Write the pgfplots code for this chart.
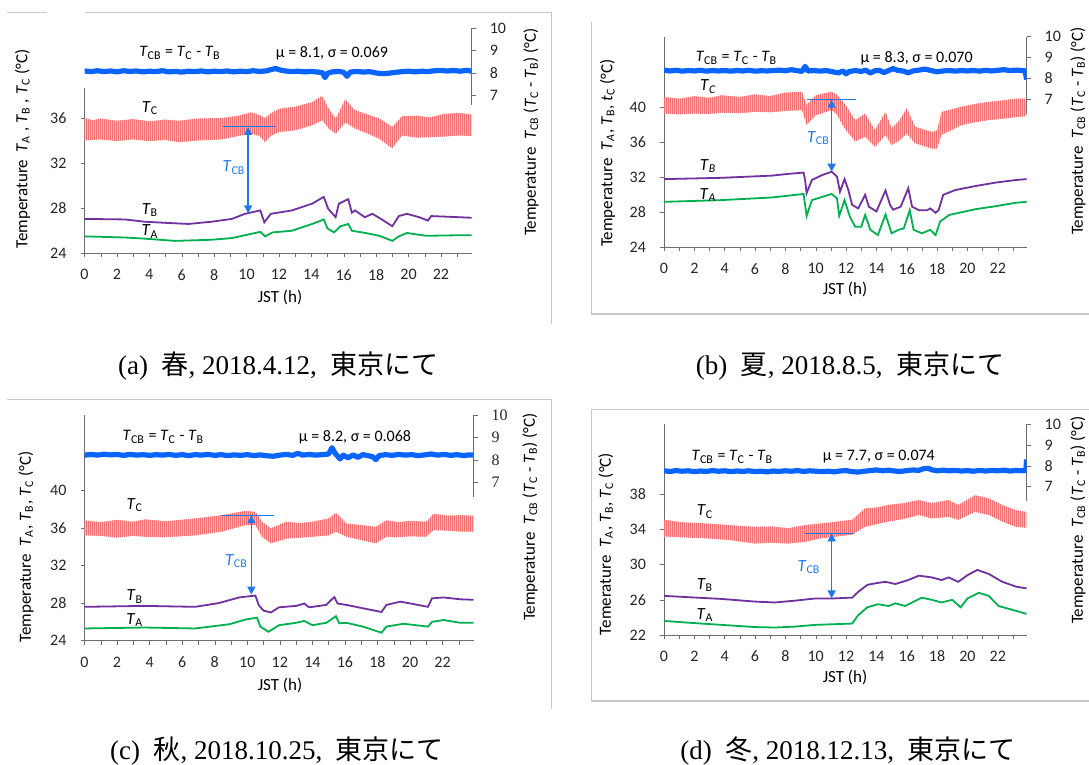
\documentclass[border=0pt]{standalone}
\usepackage{fontspec}
\setmainfont{Carlito}
\newfontfamily\capfont{Liberation Serif}
\newfontfamily\jp{Noto Sans CJK JP}
\usepackage{pgfplots}
\pgfplotsset{compat=1.18}
\usetikzlibrary{patterns.meta,arrows.meta}

\definecolor{cpink}{RGB}{249,186,186}
\definecolor{cpinkd}{RGB}{238,112,112}
\definecolor{cblue}{RGB}{10,100,255}
\definecolor{carrow}{RGB}{30,120,240}
\definecolor{cpurp}{RGB}{112,48,160}
\definecolor{cgreen}{RGB}{0,176,80}
\definecolor{caxis}{RGB}{110,110,110}
\definecolor{cframe}{RGB}{200,200,200}

\newcommand\T[1]{\textit{T}\textsubscript{#1}}
\newcommand\Ti[1]{\textit{T}\textsubscript{\textit{#1}}}
\newcommand\lab{\fontsize{8.5}{10}\selectfont}
\newcommand\tk{\fontsize{8}{9.6}\selectfont}

\tikzset{
  arr/.style={carrow, line width=0.8pt, {Triangle[length=4pt,width=4pt]}-{Triangle[length=4pt,width=4pt]}},
  hl/.style={carrow, line width=0.5pt},
}
\pgfplotsset{
  mainax/.style={scale only axis, anchor=south west,
    axis x line*=bottom, axis y line*=left, axis line style={caxis,-},
    xmin=0, xmax=23.9, xtick={0,2,...,22}, minor xtick={1,3,...,23},
    tick align=outside, major tick length=2pt, minor tick length=2pt,
    tick style={caxis}, tick label style={font=\tk, text=black!85},
    /pgf/number format/assume math mode=true,
    xticklabel style={yshift=-2.5pt}, yticklabel style={xshift=-3.5pt}},
  rightax/.style={scale only axis, anchor=south west,
    axis x line*=bottom, x axis line style={draw=none}, xtick=\empty,
    axis y line*=right, axis line style={caxis,-},
    xmin=0, xmax=23.9, ytick={7,8,9,10}, tick align=outside,
    major tick length=2pt, tick style={caxis},
    tick label style={font=\tk, text=black!85},
    /pgf/number format/assume math mode=true, yticklabel style={xshift=3.5pt}},
  tb/.style={cpurp, line width=0.9pt},
  ta/.style={cgreen, line width=0.9pt},
  bl/.style={cblue, line width=2.6pt, line join=round},
  band/.style={fill=cpink, draw=none,
    postaction={pattern={Lines[angle=90,distance=1pt,line width=0.4pt]}, pattern color=cpinkd}},
}

\begin{document}
\begin{tikzpicture}
% frames
\draw[cframe, line width=0.6pt] (3.5pt,376.4pt) -- (23.5pt,376.4pt);
\draw[cframe, line width=0.6pt] (42.5pt,376.4pt) -- (275.85pt,376.4pt) -- (275.85pt,220.5pt);
\draw[cframe, line width=0.6pt] (295.85pt,371.5pt) -- (295.85pt,225.5pt) -- (544.5pt,225.5pt);
\draw[cframe, line width=0.6pt] (3.5pt,182.85pt) -- (275.85pt,182.85pt) -- (275.85pt,28pt);
\draw[cframe, line width=0.6pt] (544.5pt,177.85pt) -- (295.85pt,177.85pt) -- (295.85pt,32pt) -- (544.5pt,32pt);

% ---------------- (a) ----------------
\begin{axis}[mainax, at={(42.25pt,255.85pt)}, width=193.6pt, height=82.5pt,
  ymin=24, ymax=38.63, ytick={24,28,32,36}]
\addplot[band] coordinates {(0,36.0)(0.5,35.8)(1,35.95)(2,35.75)(3,35.9)(4,35.7)(5,35.85)(5.8,35.75)(7,35.95)(8.5,36.0)(9.5,36.2)(10.3,36.5)(10.8,36.25)(11.15,36.0)(11.5,36.4)(12,36.8)(13,37.0)(13.5,37.2)(14.05,37.4)(14.67,37.95)(15.08,36.8)(15.5,35.95)(16.1,37.65)(16.7,36.7)(17.5,36.3)(18.2,35.95)(19.0,35.2)(19.6,36.15)(20.5,36.2)(21.3,36.05)(22.2,36.35)(23.1,36.45)(23.9,36.3)
 (23.9,34.4)(23.1,34.45)(22.2,34.35)(21.3,34.3)(20.5,34.25)(19.6,34.45)(19.0,33.3)(18.2,34.15)(17.5,34.6)(16.7,35.05)(16.1,35.6)(15.5,34.6)(15.08,35.05)(14.67,35.8)(14.05,35.35)(13,34.9)(12,34.75)(11.5,34.4)(11.15,33.85)(10.8,34.4)(10.3,34.6)(9.5,34.4)(8.5,34.1)(7,34.0)(5.8,33.85)(5,34.05)(4,33.95)(3,34.1)(2,33.95)(1,34.1)(0,34.0)} --cycle;
\addplot[tb] coordinates {(0,27.05)(2.5,27.0)(3.7,26.8)(5,26.7)(6.4,26.6)(7.85,26.8)(9.1,27.05)(9.9,27.5)(10.85,27.8)(11.1,26.75)(11.5,27.5)(12.8,27.8)(14.05,28.4)(14.77,29.0)(15.04,27.95)(15.5,27.2)(15.7,28.4)(16.28,28.8)(16.5,27.6)(16.7,27.8)(17.3,27.2)(17.77,27.5)(18.3,27.05)(19.0,26.4)(19.4,27.3)(19.9,27.5)(20.66,27.2)(21.2,26.9)(21.4,27.3)(23.1,27.2)(23.9,27.15)};
\addplot[ta] coordinates {(0,25.5)(2.5,25.4)(3.7,25.3)(5.6,25.1)(7.85,25.2)(9.1,25.35)(9.9,25.6)(10.85,25.9)(11.15,25.5)(11.6,25.85)(12.8,26.0)(14.05,26.6)(14.77,27.0)(15.0,26.2)(15.4,25.85)(15.8,26.4)(16.28,26.6)(16.5,26.0)(17.35,25.8)(18.2,25.55)(19.0,25.1)(19.4,25.5)(19.9,25.8)(21.1,25.55)(23.1,25.6)(23.9,25.6)};
\draw[hl] (8.57,35.2) -- (11.8,35.2);
\draw[arr] (10.1,27.55) -- (10.1,35.2);
\end{axis}
\begin{axis}[rightax, at={(42.25pt,330pt)}, width=193.6pt, height=38.35pt, ymin=6.55, ymax=10]
\addplot[bl] coordinates {(0,8.08)(0.4,8.05)(0.8,8.09)(1.2,8.05)(1.6,8.08)(2.0,8.04)(2.4,8.09)(2.8,8.06)(3.2,8.08)(3.6,8.04)(4.0,8.07)(4.4,8.05)(4.8,8.09)(5.2,8.04)(5.6,8.06)(6.0,8.03)(6.4,8.07)(6.8,8.05)(7.2,8.08)(7.6,8.04)(8.0,8.07)(8.4,8.05)(8.8,8.08)(9.2,8.04)(9.6,8.07)(10.0,8.05)(10.4,8.09)(10.8,8.06)(11.2,8.08)(11.5,8.14)(11.8,8.19)(12.1,8.12)(12.4,8.08)(12.8,8.05)(13.2,8.07)(13.6,8.04)(14.0,8.06)(14.4,8.03)(14.7,8.0)(14.85,7.78)(15.0,7.98)(15.3,8.04)(15.7,8.06)(16.0,8.02)(16.2,7.84)(16.4,8.03)(16.8,8.06)(17.2,8.03)(17.6,8.05)(18.0,7.99)(18.4,7.96)(18.8,7.98)(19.2,8.02)(19.6,8.05)(20.0,8.07)(20.4,8.04)(20.8,8.07)(21.2,8.05)(21.6,8.09)(22.0,8.1)(22.4,8.08)(22.8,8.1)(23.2,8.07)(23.6,8.11)(23.9,8.07)};
\end{axis}

% ---------------- (b) ----------------
\begin{axis}[mainax, at={(332pt,258.85pt)}, width=181.3pt, height=105.3pt,
  ymin=24, ymax=48.1, ytick={24,28,32,36,40}]
\addplot[band] coordinates {(0,41.2)(1,41.0)(2,41.3)(3,41.1)(3.8,41.4)(5,41.2)(6,41.5)(7,41.3)(8,41.7)(9.1,41.8)(9.4,40.3)(10.0,41.4)(11.05,41.8)(11.4,41.5)(11.7,40.85)(12.0,40.2)(12.6,38.55)(13.26,39.3)(13.9,37.4)(14.6,39.5)(15.0,37.6)(15.5,38.5)(16.0,39.9)(16.55,37.8)(17.65,37.2)(18.0,37.4)(18.3,39.5)(19.65,40.1)(20.5,40.4)(21.4,40.65)(22.3,40.8)(23.2,41.0)(23.9,41.0)
 (23.9,39.0)(23.2,38.9)(22.3,38.7)(21.4,38.55)(20.5,38.3)(19.65,38.0)(18.3,36.85)(18.0,35.3)(17.65,35.3)(16.55,35.9)(16.0,37.0)(15.5,36.2)(15.0,35.7)(14.6,36.85)(13.9,35.5)(13.26,36.65)(12.6,36.1)(12.0,37.4)(11.7,38.2)(11.4,39.2)(11.05,39.7)(10.0,39.1)(9.4,38.0)(9.1,39.7)(8,39.6)(7,39.45)(6,39.5)(5,39.35)(3.8,39.4)(3,39.25)(2,39.3)(1,39.2)(0,39.3)} --cycle;
\addplot[tb] coordinates {(0,31.8)(3.8,31.95)(7.1,32.2)(8.2,32.4)(9.2,32.55)(9.3,31.7)(9.4,30.2)(9.75,31.7)(10.4,32.25)(11.05,32.65)(11.4,32.1)(11.6,30.35)(11.9,31.8)(12.15,30.55)(12.4,28.85)(12.8,28.45)(13.26,30.0)(13.5,28.65)(14.0,28.1)(14.6,30.5)(14.9,28.85)(15.1,28.3)(15.6,28.65)(16.1,30.75)(16.35,28.65)(16.8,28.25)(17.35,28.25)(17.55,28.45)(17.9,27.95)(18.1,28.25)(18.4,30.0)(19.2,30.55)(20.5,31.0)(21.85,31.4)(23.2,31.7)(23.9,31.8)};
\addplot[ta] coordinates {(0,29.2)(3.8,29.4)(7.1,29.7)(9.2,30.1)(9.3,28.85)(9.4,27.6)(9.75,29.4)(11.05,30.1)(11.4,29.6)(11.55,27.6)(11.9,29.4)(12.25,27.5)(12.6,26.35)(13.0,26.35)(13.26,27.7)(13.6,26.0)(14.1,25.4)(14.6,27.75)(15.0,25.6)(15.45,26.0)(15.8,26.15)(16.2,28.25)(16.45,26.0)(17.0,25.6)(17.55,26.0)(17.9,25.4)(18.2,26.95)(18.8,27.7)(20.5,28.35)(21.85,28.7)(23.2,29.1)(23.9,29.2)};
\draw[hl] (9.4,40.9) -- (12.67,40.9);
\draw[arr] (11.05,32.65) -- (11.05,40.9);
\end{axis}
\begin{axis}[rightax, at={(332pt,325.5pt)}, width=181.3pt, height=38.65pt, ymin=6.3, ymax=10]
\addplot[bl] coordinates {(0,8.40)(0.4,8.36)(0.8,8.39)(1.2,8.35)(1.6,8.38)(2.0,8.36)(2.4,8.39)(2.8,8.35)(3.2,8.38)(3.6,8.36)(4.0,8.38)(4.4,8.35)(4.8,8.38)(5.2,8.36)(5.6,8.39)(6.0,8.35)(6.4,8.37)(6.8,8.36)(7.2,8.38)(7.6,8.40)(8.0,8.37)(8.4,8.42)(8.8,8.37)(9.1,8.34)(9.3,8.58)(9.5,8.36)(9.9,8.38)(10.3,8.35)(10.7,8.38)(11.1,8.32)(11.5,8.27)(11.8,8.36)(12.0,8.22)(12.2,8.33)(12.6,8.38)(13.0,8.34)(13.3,8.40)(13.6,8.26)(13.9,8.37)(14.2,8.39)(14.5,8.28)(14.8,8.38)(15.1,8.47)(15.4,8.39)(15.8,8.35)(16.1,8.27)(16.4,8.36)(16.8,8.40)(17.2,8.45)(17.6,8.38)(18.0,8.32)(18.4,8.36)(18.8,8.38)(19.2,8.35)(19.6,8.38)(20.0,8.36)(20.4,8.38)(20.8,8.35)(21.2,8.39)(21.6,8.36)(22.0,8.39)(22.4,8.42)(22.8,8.38)(23.2,8.40)(23.6,8.38)(23.8,8.36)(23.9,7.95)};
\end{axis}

% ---------------- (c) ----------------
\begin{axis}[mainax, at={(42.25pt,62.15pt)}, width=194.5pt, height=112.85pt,
  ymin=24, ymax=48, ytick={24,28,32,36,40}]
\addplot[band] coordinates {(0,36.8)(1,36.6)(2,36.85)(3,36.65)(3.7,36.9)(5,36.7)(6.8,37.0)(8.45,37.35)(9.9,37.8)(10.5,37.7)(10.9,36.65)(11.45,35.95)(12.4,36.65)(13.2,36.5)(14.0,36.65)(15.0,37.0)(15.45,37.6)(16.1,36.45)(17.0,36.3)(17.9,36.1)(18.55,36.8)(19.3,36.6)(20.0,36.75)(21.0,36.65)(21.45,37.5)(22.3,37.3)(23.1,37.35)(23.9,37.3)
 (23.9,35.6)(23.1,35.6)(22.3,35.7)(21.45,35.75)(21.0,35.05)(20.0,35.1)(19.3,35.0)(18.55,35.05)(17.9,34.35)(17.0,34.7)(16.1,35.05)(15.45,35.6)(15.0,35.2)(14.0,35.05)(13.2,34.95)(12.4,34.85)(11.45,34.35)(10.9,35.05)(10.5,36.3)(9.9,36.3)(8.45,35.6)(6.8,35.2)(5,35.0)(3.7,35.05)(3,35.15)(2,34.95)(1,35.15)(0,35.2)} --cycle;
\addplot[tb] coordinates {(0,27.6)(3.7,27.7)(6.8,27.6)(8.25,28.0)(9.5,28.6)(10.5,28.8)(10.7,27.8)(11.0,27.2)(11.45,27.0)(11.95,27.55)(13.0,27.7)(13.5,27.95)(13.8,27.55)(14.85,27.8)(15.35,28.65)(15.55,27.95)(16.1,27.8)(17.1,27.45)(18.25,27.05)(18.55,27.8)(19.4,28.15)(20.2,27.9)(21.1,27.6)(21.35,28.5)(22.05,28.6)(23.1,28.4)(23.9,28.35)};
\addplot[ta] coordinates {(0,25.3)(3.7,25.4)(6.8,25.3)(8.9,25.75)(9.9,26.25)(10.6,26.45)(10.8,25.5)(11.3,24.95)(11.95,25.65)(13.0,25.9)(13.5,26.1)(14.0,25.65)(14.85,25.9)(15.45,26.6)(15.65,25.85)(16.1,25.9)(17.1,25.5)(18.25,24.85)(18.55,25.5)(19.6,25.8)(21.1,25.5)(21.35,26.0)(22.05,26.2)(23.1,25.9)(23.9,25.9)};
\draw[hl] (8.4,37.35) -- (11.65,37.35);
\draw[arr] (10.25,28.9) -- (10.25,37.35);
\end{axis}
\begin{axis}[rightax, at={(42.25pt,133.85pt)}, width=194.5pt, height=41.15pt, ymin=6.35, ymax=10,
  tick label style={font=\capfont\tk}]
\addplot[bl] coordinates {(0,8.22)(0.4,8.25)(0.8,8.22)(1.2,8.26)(1.6,8.23)(2.0,8.25)(2.4,8.21)(2.8,8.25)(3.2,8.22)(3.6,8.24)(4.0,8.21)(4.4,8.24)(4.8,8.22)(5.2,8.25)(5.6,8.21)(6.0,8.24)(6.4,8.2)(6.8,8.24)(7.2,8.22)(7.6,8.25)(8.0,8.21)(8.4,8.24)(8.8,8.2)(9.2,8.23)(9.6,8.21)(10.0,8.24)(10.4,8.2)(10.8,8.23)(11.2,8.19)(11.6,8.17)(12.0,8.22)(12.4,8.25)(12.8,8.21)(13.1,8.3)(13.4,8.22)(13.8,8.25)(14.2,8.22)(14.6,8.24)(15.0,8.27)(15.2,8.55)(15.4,8.3)(15.7,8.05)(15.9,8.22)(16.2,8.1)(16.5,8.23)(16.8,8.12)(17.1,8.24)(17.4,8.2)(17.7,8.15)(17.9,8.02)(18.1,8.2)(18.5,8.24)(18.9,8.21)(19.3,8.25)(19.7,8.22)(20.1,8.24)(20.5,8.2)(20.9,8.23)(21.3,8.27)(21.7,8.22)(22.1,8.25)(22.5,8.21)(22.9,8.24)(23.3,8.2)(23.6,8.23)(23.9,8.22)};
\end{axis}

% ---------------- (d) ----------------
\begin{axis}[mainax, at={(332pt,65pt)}, width=181.3pt, height=105.5pt,
  ymin=22, ymax=46, ytick={22,26,30,34,38}]
\addplot[band] coordinates {(0,35.1)(1.3,34.8)(2.7,34.7)(4.3,34.5)(6.0,34.3)(7.1,34.35)(8.2,34.15)(9.3,34.5)(10.4,34.7)(11.4,34.9)(12.4,35.1)(13.25,36.4)(14.0,36.5)(14.8,36.8)(15.8,37.0)(16.8,37.35)(17.65,37.0)(18.75,37.35)(19.4,36.8)(20.5,37.9)(21.4,37.55)(22.3,36.8)(23.2,36.2)(23.9,36.0)
 (23.9,34.2)(23.2,34.3)(22.3,34.9)(21.4,35.65)(20.5,36.0)(19.4,35.1)(18.75,35.45)(17.65,35.25)(16.8,35.65)(15.8,35.2)(14.8,34.9)(14.0,34.6)(13.25,34.3)(12.4,33.4)(11.4,33.2)(10.4,33.0)(9.3,32.6)(8.2,32.4)(7.1,32.5)(6.0,32.4)(4.3,32.8)(2.7,33.0)(1.3,33.1)(0,33.2)} --cycle;
\addplot[tb] coordinates {(0,26.45)(1.6,26.3)(3.8,26.1)(6.0,25.8)(7.3,25.7)(8.6,25.9)(9.95,26.15)(11.05,26.15)(12.4,26.25)(12.8,26.9)(13.4,27.7)(14.0,27.9)(14.6,28.05)(15.25,27.8)(16.1,28.25)(16.8,28.75)(17.65,28.55)(18.3,28.25)(18.75,28.55)(19.4,28.05)(20.0,28.8)(20.65,29.4)(21.4,28.95)(22.3,28.05)(23.2,27.5)(23.9,27.3)};
\addplot[ta] coordinates {(0,23.6)(1.6,23.4)(3.8,23.15)(6.0,22.9)(7.3,22.85)(8.6,22.95)(9.95,23.15)(12.4,23.3)(12.8,24.25)(13.4,25.15)(14.1,25.5)(14.8,25.3)(15.25,25.6)(15.9,25.3)(17.0,26.25)(17.65,26.0)(18.3,25.7)(19.0,26.0)(19.55,25.15)(20.0,26.15)(20.75,26.8)(21.4,26.45)(22.05,25.3)(23.2,24.75)(23.9,24.4)};
\draw[hl] (9.3,33.56) -- (12.55,33.56);
\draw[arr] (11.05,26.17) -- (11.05,33.56);
\end{axis}
\begin{axis}[rightax, at={(332pt,132.15pt)}, width=181.3pt, height=38.35pt, ymin=6.33, ymax=10]
\addplot[bl] coordinates {(0,7.76)(0.4,7.73)(0.8,7.77)(1.2,7.74)(1.6,7.76)(2.0,7.72)(2.4,7.75)(2.8,7.73)(3.2,7.77)(3.6,7.74)(4.0,7.76)(4.4,7.72)(4.8,7.75)(5.2,7.73)(5.6,7.76)(6.0,7.72)(6.4,7.74)(6.8,7.71)(7.2,7.75)(7.6,7.73)(8.0,7.76)(8.4,7.74)(8.8,7.77)(9.2,7.73)(9.6,7.76)(10.0,7.74)(10.4,7.72)(10.8,7.74)(11.2,7.71)(11.6,7.75)(12.0,7.77)(12.4,7.72)(12.8,7.70)(13.2,7.74)(13.6,7.77)(14.0,7.80)(14.4,7.76)(14.8,7.79)(15.2,7.75)(15.6,7.73)(16.0,7.77)(16.4,7.80)(16.8,7.78)(17.1,7.86)(17.4,7.88)(17.7,7.80)(18.0,7.76)(18.4,7.79)(18.8,7.76)(19.2,7.78)(19.6,7.75)(20.0,7.77)(20.4,7.74)(20.8,7.78)(21.2,7.75)(21.6,7.78)(22.0,7.76)(22.4,7.79)(22.8,7.75)(23.2,7.78)(23.6,7.76)(23.85,7.78)(23.9,8.3)};
\end{axis}

% ---------------- texts ----------------
\begin{scope}[every node/.style={inner sep=0pt}]
% (a)
\node[font=\tk] at (90pt,356pt) {\T{CB} = \T{C} - \T{B}};
\node[font=\tk] at (166pt,356pt) {μ = 8.1, σ = 0.069};
\node[font=\lab] at (75pt,328.4pt) {\T{C}};
\node[font=\lab] at (75pt,277.5pt) {\T{B}};
\node[font=\lab] at (75pt,266.7pt) {\T{A}};
\node[font=\lab, text=carrow] at (117pt,298.7pt) {\T{CB}};
\node[font=\lab, rotate=90] at (11.3pt,308pt) {Temperature\ \ \T{A} , \T{B} , \T{C} (°C)};
\node[font=\lab, rotate=90] at (265.5pt,316.5pt) {Temperature\ \ \T{CB} (\T{C} - \T{B}) (°C)};
\node[font=\lab] at (140pt,234pt) {JST (h)};
% (b)
\node[font=\tk] at (368.25pt,353.5pt) {\T{CB} = \T{C} - \T{B}};
\node[font=\tk] at (458.3pt,353.5pt) {μ = 8.3, σ = 0.070};
\node[font=\lab] at (354.2pt,339.2pt) {\Ti{C}};
\node[font=\lab] at (354pt,299.5pt) {\Ti{B}};
\node[font=\lab] at (354pt,285pt) {\Ti{A}};
\node[font=\lab, text=carrow] at (409.2pt,313.4pt) {\T{CB}};
\node[font=\lab, rotate=90] at (303.75pt,306pt) {Temperature\ \ \Ti{A}, \T{B}, \textit{t}\textsubscript{C} (°C)};
\node[font=\lab, rotate=90] at (539pt,317pt) {Temperature\ \ \T{CB} (\T{C} - \T{B}) (°C)};
\node[font=\lab] at (422.5pt,238pt) {JST (h)};
% (c)
\node[font=\tk] at (81.7pt,164pt) {\T{CB} = \T{C} - \T{B}};
\node[font=\tk] at (177.5pt,164pt) {μ = 8.2, σ = 0.068};
\node[font=\lab] at (67.4pt,130pt) {\T{C}};
\node[font=\lab] at (67.4pt,84.2pt) {\T{B}};
\node[font=\lab] at (67.4pt,72.5pt) {\T{A}};
\node[font=\lab, text=carrow] at (118.2pt,102pt) {\T{CB}};
\node[font=\lab, rotate=90] at (13pt,109pt) {Temperature\ \ \T{A},\ \T{B},\ \T{C} (°C)};
\node[font=\lab, rotate=90] at (265pt,124pt) {Temperature\ \ \T{CB} (\T{C} - \T{B}) (°C)};
\node[font=\lab] at (140pt,40pt) {JST (h)};
% (d)
\node[font=\tk] at (366.2pt,154pt) {\T{CB} = \T{C} - \T{B}};
\node[font=\tk] at (439.4pt,154pt) {μ = 7.7, σ = 0.074};
\node[font=\lab] at (352.5pt,126.7pt) {\T{C}};
\node[font=\lab] at (352.5pt,90pt) {\T{B}};
\node[font=\lab] at (352.5pt,75pt) {\T{A}};
\node[font=\lab, text=carrow] at (404.5pt,98.9pt) {\T{CB}};
\node[font=\lab, rotate=90] at (302.9pt,110.5pt) {Temerature\ \ \T{A}, \T{B}, \T{C} (°C)};
\node[font=\lab, rotate=90] at (539pt,122.5pt) {Temperature\ \ \T{CB} (\T{C} - \T{B}) (°C)};
\node[font=\lab] at (422.5pt,44pt) {JST (h)};
% captions
\node[font=\capfont\fontsize{13.5}{16}\selectfont] at (139.15pt,199.5pt) {(a)\ \ {\jp 春}, 2018.4.12,\ \ {\jp 東京にて}};
\node[font=\capfont\fontsize{13.5}{16}\selectfont] at (425pt,199.5pt) {(b)\ \ {\jp 夏}, 2018.8.5,\ \ {\jp 東京にて}};
\node[font=\capfont\fontsize{13.5}{16}\selectfont] at (138.5pt,7pt) {(c)\ \ {\jp 秋}, 2018.10.25,\ \ {\jp 東京にて}};
\node[font=\capfont\fontsize{13.5}{16}\selectfont] at (424pt,7pt) {(d)\ \ {\jp 冬}, 2018.12.13,\ \ {\jp 東京にて}};
\end{scope}
\pgfresetboundingbox
\path (0,0) rectangle (544.5pt,382.5pt);
\end{tikzpicture}
\end{document}
